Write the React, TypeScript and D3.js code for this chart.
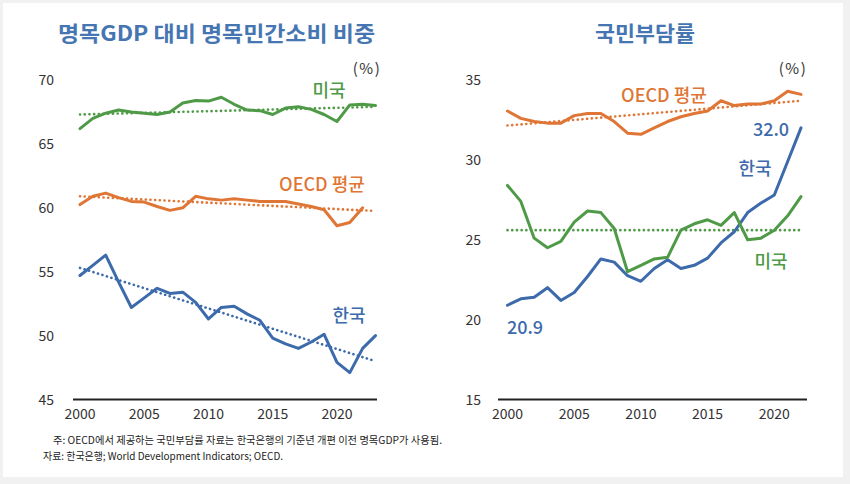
import React from "react";
import * as d3 from "d3";

const yearsL = d3.range(2000, 2024);
const korConsL = [54.7, 55.5, 56.3, 54.2, 52.2, 52.95, 53.7, 53.3, 53.4, 52.6, 51.3, 52.2, 52.3, 51.7, 51.2, 49.8, 49.35, 49.0, 49.5, 50.1, 47.9, 47.1, 49.0, 50.0];
const oecdConsL = [60.25, 60.9, 61.15, 60.8, 60.5, 60.45, 60.1, 59.8, 60.0, 60.9, 60.7, 60.6, 60.7, 60.6, 60.5, 60.5, 60.5, 60.3, 60.1, 59.85, 58.6, 58.85, 60.0];
const usConsL = [66.2, 67.0, 67.4, 67.65, 67.5, 67.4, 67.3, 67.5, 68.2, 68.4, 68.35, 68.65, 68.1, 67.65, 67.6, 67.3, 67.8, 67.9, 67.7, 67.3, 66.75, 68.05, 68.1, 68.0];
const korTrendL = [55.3, 48.0];
const oecdTrendL = [60.9, 59.75];
const usTrendL = [67.3, 67.9];

const yearsR = d3.range(2000, 2023);
const korTaxR = [20.9, 21.3, 21.4, 22.0, 21.2, 21.7, 22.7, 23.8, 23.6, 22.75, 22.4, 23.2, 23.75, 23.2, 23.4, 23.85, 24.8, 25.5, 26.7, 27.3, 27.8, 29.9, 32.0];
const oecdTaxR = [33.06, 32.6, 32.4, 32.3, 32.3, 32.77, 32.9, 32.9, 32.4, 31.67, 31.6, 32.0, 32.4, 32.7, 32.9, 33.06, 33.7, 33.4, 33.5, 33.5, 33.7, 34.3, 34.1];
const usTaxR = [28.4, 27.4, 25.1, 24.5, 24.9, 26.1, 26.8, 26.7, 25.7, 23.0, 23.4, 23.8, 23.9, 25.6, 26.0, 26.25, 25.9, 26.7, 25.0, 25.1, 25.6, 26.5, 27.7];
const oecdTrendR = [32.15, 33.7];
const usTrendR = [25.6, 25.6];

const yTicksL = [45, 50, 55, 60, 65, 70];
const yTicksR = [15, 20, 25, 30, 35];
const xTicks = [2000, 2005, 2010, 2015, 2020];

const BLUE = "#3c6aab";
const ORANGE = "#df7636";
const GREEN = "#4f9a47";
const TITLE = "#4676b2";
const FONT = "'Noto Sans CJK KR', 'Noto Sans', sans-serif";

export default function App() {
  const xL = d3.scaleLinear().domain([2000, 2023]).range([80, 375.5]);
  const yL = d3.scaleLinear().domain([45, 70]).range([399.5, 80]);
  const xR = d3.scaleLinear().domain([2000, 2022]).range([507.5, 801]);
  const yR = d3.scaleLinear().domain([15, 35]).range([399.5, 80]);

  const mk = (x: any, y: any, years: number[]) =>
    d3.line<number>().x((_, i) => x(years[i])).y((d) => y(d)).curve(d3.curveLinear);

  const lineL = mk(xL, yL, yearsL);
  const lineR = mk(xR, yR, yearsR);

  const trend = (x: any, y: any, vals: number[], y0: number, y1: number, key: string, color: string) => (
    <line key={key} x1={x(y0)} x2={x(y1)} y1={y(vals[0])} y2={y(vals[1])}
      stroke={color} strokeWidth={2.6} strokeDasharray="0.1,4.6" strokeLinecap="round" />
  );

  const path = (d: string | null, color: string, key: string) => (
    <path key={key} d={d || ""} fill="none" stroke={color} strokeWidth={3} strokeLinejoin="round" strokeLinecap="round" />
  );

  const lab = { fontSize: 18, fontWeight: 500 } as const;

  return (
    <svg width={850} height={484} style={{ position: "absolute", left: 0, top: 0 }} fontFamily={FONT}>
      <rect x={0} y={0} width={850} height={484} fill="#f1f1f1" />
      <rect x={3} y={3} width={840} height={474} fill="#ffffff" />

      {/* Titles */}
      <text x={58} y={41} fontSize={21} fontWeight={700} fill={TITLE} textLength={317} lengthAdjust="spacingAndGlyphs">명목GDP 대비 명목민간소비 비중</text>
      <text x={595} y={41} fontSize={21} fontWeight={700} fill={TITLE} textLength={100} lengthAdjust="spacingAndGlyphs">국민부담률</text>

      {/* Left panel axes */}
      {yTicksL.map((t) => (
        <text key={"yl" + t} x={54} y={yL(t) + 5} textAnchor="end" fontSize={14} fill="#333">{t}</text>
      ))}
      {xTicks.map((t) => (
        <text key={"xl" + t} x={xL(t)} y={419} textAnchor="middle" fontSize={14} fill="#333">{t}</text>
      ))}
      <line x1={73} x2={377} y1={399.5} y2={399.5} stroke="#222" strokeWidth={2} />
      <text x={367} y={74} textAnchor="middle" fontSize={15} fill="#333" letterSpacing={1.5}>(%)</text>

      {/* Left panel trends */}
      {trend(xL, yL, korTrendL, 2000, 2023, "tk", BLUE)}
      {trend(xL, yL, oecdTrendL, 2000, 2023, "to", ORANGE)}
      {trend(xL, yL, usTrendL, 2000, 2023, "tu", GREEN)}

      {/* Left panel lines */}
      {path(lineL(usConsL), GREEN, "lu")}
      {path(lineL(oecdConsL), ORANGE, "lo")}
      {path(lineL(korConsL), BLUE, "lk")}

      <text x={329} y={97} textAnchor="middle" {...lab} fill={GREEN}>미국</text>
      <text x={322} y={191} textAnchor="middle" {...lab} fill={ORANGE}>OECD 평균</text>
      <text x={349} y={322} textAnchor="middle" {...lab} fill={BLUE}>한국</text>

      {/* Right panel axes */}
      {yTicksR.map((t) => (
        <text key={"yr" + t} x={481} y={yR(t) + 5} textAnchor="end" fontSize={14} fill="#333">{t}</text>
      ))}
      {xTicks.map((t) => (
        <text key={"xr" + t} x={xR(t)} y={419} textAnchor="middle" fontSize={14} fill="#333">{t}</text>
      ))}
      <line x1={498} x2={807} y1={399.5} y2={399.5} stroke="#222" strokeWidth={2} />
      <text x={793} y={74} textAnchor="middle" fontSize={15} fill="#333" letterSpacing={1.5}>(%)</text>

      {/* Right panel trends */}
      {trend(xR, yR, oecdTrendR, 2000, 2022, "rto", ORANGE)}
      {trend(xR, yR, usTrendR, 2000, 2022, "rtu", GREEN)}

      {/* Right panel lines */}
      {path(lineR(oecdTaxR), ORANGE, "ro")}
      {path(lineR(korTaxR), BLUE, "rk")}
      {path(lineR(usTaxR), GREEN, "ru")}

      <text x={664} y={102} textAnchor="middle" {...lab} fill={ORANGE}>OECD 평균</text>
      <text x={771} y={136} textAnchor="middle" {...lab} fill={BLUE}>32.0</text>
      <text x={755} y={175} textAnchor="middle" {...lab} fill={BLUE}>한국</text>
      <text x={771} y={268} textAnchor="middle" {...lab} fill={GREEN}>미국</text>
      <text x={525} y={334} textAnchor="middle" {...lab} fill={BLUE}>20.9</text>

      {/* Footnotes */}
      <text x={53} y={444} fontSize={10.2} fill="#222" textLength={389} lengthAdjust="spacingAndGlyphs">주: OECD에서 제공하는 국민부담률 자료는 한국은행의 기준년 개편 이전 명목GDP가 사용됨.</text>
      <text x={43} y={459.5} fontSize={10.2} fill="#222" textLength={240} lengthAdjust="spacingAndGlyphs">자료: 한국은행; World Development Indicators; OECD.</text>
    </svg>
  );
}
